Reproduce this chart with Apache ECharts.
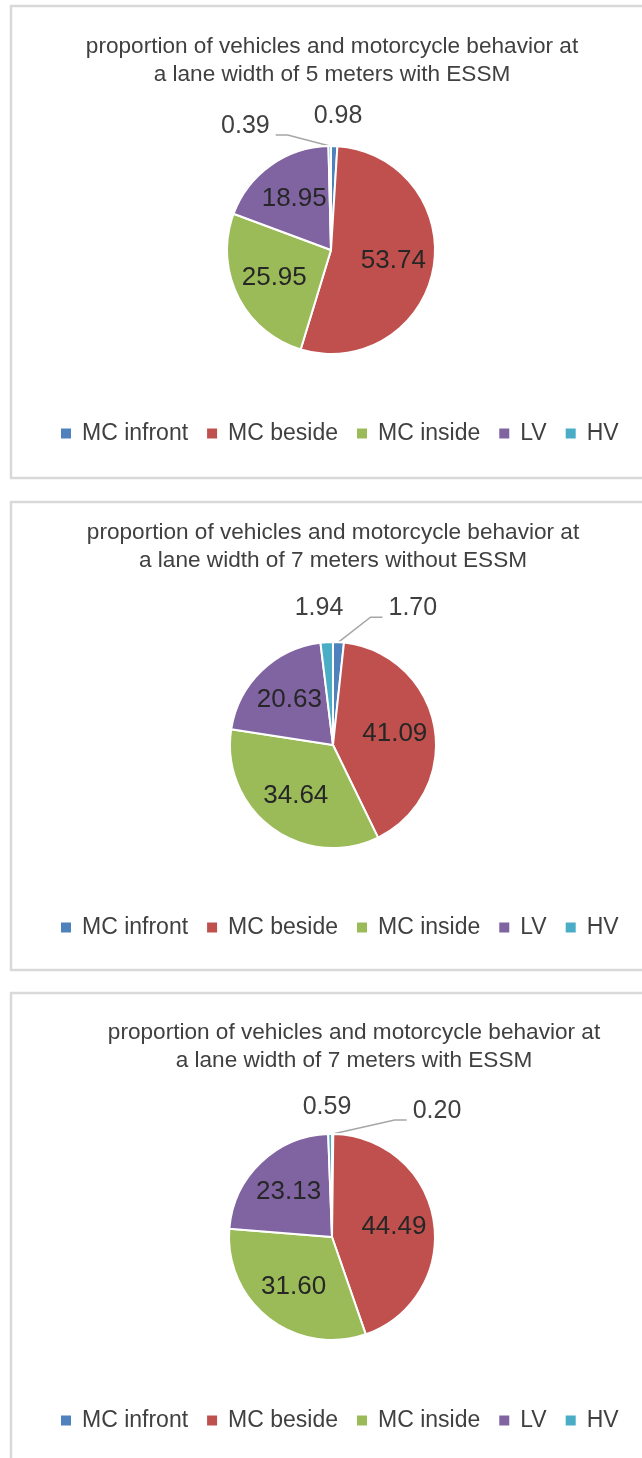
<!DOCTYPE html>
<html>
<head>
<meta charset="utf-8">
<script src="https://cdn.jsdelivr.net/npm/echarts@6/dist/echarts.min.js"></script>
<style>
  html, body { margin: 0; padding: 0; background: #fff; }
  #chart { width: 642px; height: 1458px; }
</style>
</head>
<body>
<div id="chart"></div>
<script>
// categories (same for all three pies)
const categories = ['MC infront', 'MC beside', 'MC inside', 'LV', 'HV'];

// values (percent)
const lane5WithEssm = [0.98, 53.74, 25.95, 18.95, 0.39];
const lane7WithoutEssm = [1.70, 41.09, 34.64, 20.63, 1.94];
const lane7WithEssm = [0.20, 44.49, 31.60, 23.13, 0.59];

const titles = [
    'proportion of vehicles and motorcycle behavior at\na lane width of 5 meters with ESSM',
    'proportion of vehicles and motorcycle behavior at\na lane width of 7 meters without ESSM',
    'proportion of vehicles and motorcycle behavior at\na lane width of 7 meters with ESSM',
];

const colors = ['#4f81bd', '#c0504d', '#9bbb59', '#8064a2', '#4bacc6'];
const FONT = 'Liberation Sans';

// layout of each panel
const panels = [
    { values: lane5WithEssm, top: 6, height: 472, titleX: 332, titleTop: 33, cx: 331, cy: 250, r: 104, legendTop: 422,
      small: { 0: { mode: 'above', dx: 7, dy: -30 }, 4: { mode: 'leader', dx: -60, dy: -20 } } },
    { values: lane7WithoutEssm, top: 502, height: 468, titleX: 333, titleTop: 519, cx: 333, cy: 745, r: 103, legendTop: 916,
      small: { 4: { mode: 'above', dx: -14, dy: -34 }, 0: { mode: 'leader', dx: 50, dy: -34 } } },
    { values: lane7WithEssm, top: 993, height: 480, titleX: 354, titleTop: 1019, cx: 332, cy: 1237, r: 103, legendTop: 1409,
      small: { 4: { mode: 'above', dx: -5, dy: -27 }, 0: { mode: 'leader', dx: 80, dy: -23 } } },
];

const fmt = p => p.value.toFixed(2);

const series = [];
panels.forEach(pn => {
    // slices; only the tiny slices get an outside label here
    series.push({
        type: 'pie',
        center: [pn.cx, pn.cy],
        radius: pn.r,
        startAngle: 90,
        clockwise: true,
        avoidLabelOverlap: false,
        silent: true,
        itemStyle: { borderColor: '#fff', borderWidth: 2 },
        data: categories.map((name, i) => {
            const s = pn.small[i];
            return {
                name, value: pn.values[i],
                itemStyle: { color: colors[i] },
                label: { show: !!s },
                labelLine: { show: !!s && s.mode === 'leader' },
            };
        }),
        label: {
            position: 'outside',
            formatter: fmt,
            fontFamily: FONT, fontSize: 25, color: '#404040',
        },
        labelLine: { length: 10, length2: 10, lineStyle: { color: '#a6a6a6', width: 1.5 } },
        labelLayout: params => {
            const s = pn.small[params.dataIndex];
            if (!s) return;
            if (s.mode === 'above') {
                return { x: pn.cx + s.dx, y: pn.cy - pn.r + s.dy, align: 'center', verticalAlign: 'middle' };
            }
            const p0 = params.labelLinePoints[0];
            const x = p0[0] + s.dx, y = p0[1] + s.dy;
            const side = s.dx < 0 ? 1 : -1;
            const end = [x + side * 6, y + 9];
            const bend = [end[0] + side * 12, end[1]];
            return {
                x, y, align: s.dx < 0 ? 'right' : 'left', verticalAlign: 'middle',
                labelLinePoints: [p0, bend, end],
            };
        },
    });
    // invisible copy that carries the big labels a bit further out than mid radius
    series.push({
        type: 'pie',
        center: [pn.cx, pn.cy],
        radius: [0, pn.r * 1.16],
        startAngle: 90,
        clockwise: true,
        silent: true,
        legendHoverLink: false,
        itemStyle: { color: 'rgba(0,0,0,0)', borderWidth: 0 },
        data: categories.map((name, i) => ({
            name, value: pn.values[i],
            label: { show: !pn.small[i] },
        })),
        label: {
            position: 'inside',
            formatter: fmt,
            fontFamily: FONT, fontSize: 26, color: '#262626',
        },
        labelLine: { show: false },
    });
});

const chart = echarts.init(document.getElementById('chart'));
chart.setOption({
    animation: false,
    backgroundColor: '#fff',
    color: colors,
    graphic: panels.map(pn => ({
        type: 'rect',
        shape: { x: 11, y: pn.top, width: 660, height: pn.height },
        style: { fill: 'none', stroke: '#d9d9d9', lineWidth: 2.5 },
        z: -1,
    })),
    title: panels.map((pn, k) => ({
        text: titles[k],
        left: pn.titleX,
        top: pn.titleTop,
        textAlign: 'center',
        padding: 0,
        textStyle: { fontFamily: FONT, fontSize: 22.6, fontWeight: 'normal', color: '#404040', lineHeight: 28 },
    })),
    legend: panels.map(pn => ({
        data: categories,
        left: 59,
        top: pn.legendTop,
        padding: 0,
        itemWidth: 12,
        itemHeight: 12,
        itemGap: 17,
        icon: 'rect',
        selectedMode: false,
        textStyle: { fontFamily: FONT, fontSize: 23, color: '#404040', padding: [0, 0, 0, 5] },
    })),
    series,
});
</script>
</body>
</html>
